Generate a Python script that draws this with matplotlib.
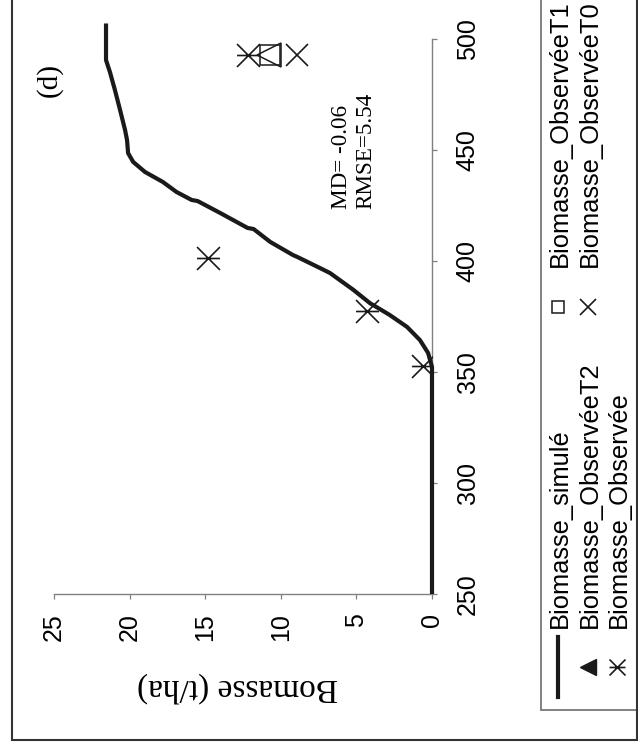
import matplotlib
matplotlib.use("Agg")
import matplotlib.pyplot as plt
from matplotlib.path import Path
from matplotlib.lines import Line2D
from matplotlib.patches import Rectangle
from matplotlib.transforms import Affine2D

# ---------------- data ----------------
days_sim = [250, 351, 352.3, 358.6, 364.4, 370.3, 375.7, 381, 387, 394.6, 396.8,
            401.8, 402.7, 408.6, 414.4, 414.9, 421.6, 427, 427.5, 431.1, 435.6,
            440.1, 444.6, 448.6, 454.5, 459, 468, 477, 485.1, 490.5, 507]
bio_sim = [0, 0, 0, 0.26, 0.8, 1.65, 2.8, 4.1, 5.2, 6.75, 7.4,
           8.9, 9.2, 10.7, 11.8, 12.2, 14.0, 15.5, 15.9, 16.9, 17.8,
           18.98, 19.76, 20.1, 20.17, 20.3, 20.63, 20.97, 21.3, 21.56, 21.56]

obs_days = [352.7, 377.7, 401.4, 492.8]
obs_bio = [0.6, 4.3, 14.8, 12.2]

t2_days = [492.8]
t2_bio = [10.75]
t1_days = [492.6]
t1_bio = [10.7]
t0_days = [492.8]
t0_bio = [8.95]

bio_ticks = [0, 5, 10, 15, 20, 25]
day_ticks = [250, 300, 350, 400, 450, 500]

legend_labels = ["Biomasse_simulé", "Biomasse_ObservéeT2", "Biomasse_Observée",
                 "Biomasse_ObservéeT1", "Biomasse_ObservéeT0"]

SANS = "Liberation Sans"
SERIF = "Liberation Serif"

# asterisk marker: X plus a horizontal bar
ast = Path([(-1, -1), (1, 1), (-1, 1), (1, -1), (-1, 0), (1, 0)],
           [Path.MOVETO, Path.LINETO, Path.MOVETO, Path.LINETO, Path.MOVETO, Path.LINETO])

W, H = 638, 745
fig = plt.figure(figsize=(W / 100, H / 100), dpi=100)
px = Affine2D().scale(1 / W, -1 / H).translate(0, 1) + fig.transFigure

ax = fig.add_axes([54 / W, (H - 594) / H, 378 / W, 555 / H])
ax.set_xlim(25, 0)
ax.set_ylim(250, 500)

ax.plot(bio_sim, days_sim, color="#1a1a1a", lw=3.0, clip_on=False, zorder=3,
        solid_capstyle="butt")
ax.plot(obs_bio, obs_days, linestyle="none", marker=ast, ms=16.5, mew=1.2,
        color="#1a1a1a", zorder=4)
ax.plot(t2_bio, t2_days, linestyle="none", marker="<", ms=17, mew=1.1,
        mfc="none", mec="#1a1a1a", zorder=4)
ax.plot(t1_bio, t1_days, linestyle="none", marker="s", ms=15, mew=1.1,
        mfc="none", mec="#1a1a1a", zorder=4)
ax.plot(t0_bio, t0_days, linestyle="none", marker="x", ms=16.5, mew=1.2,
        color="#1a1a1a", zorder=4)

for s in ["top", "left"]:
    ax.spines[s].set_visible(False)
for s in ["right", "bottom"]:
    ax.spines[s].set_color("#808080")
    ax.spines[s].set_linewidth(1.0)

ax.yaxis.tick_right()
ax.set_xticks(bio_ticks)
ax.set_yticks(day_ticks)
ax.tick_params(axis="x", direction="out", length=3.6, width=0.9, color="#808080",
               pad=10, labelsize=18)
ax.tick_params(axis="y", direction="out", length=3.6, width=0.9, color="#808080",
               pad=13.5, labelsize=18)
for lbl in ax.get_xticklabels():
    lbl.set_rotation(90)
    lbl.set_family(SANS)
for lbl in ax.get_yticklabels():
    lbl.set_rotation(90)
    lbl.set_va("center")
    lbl.set_family(SANS)

ax.set_xlabel("Bomasse (t/ha)", rotation=180, fontsize=24, family=SERIF)
ax.xaxis.label.set_va("center")
ax.xaxis.set_label_coords((238 - 54) / 378, (594 - 687) / 555)

ax.text(6.0, 423.4, "MD= -0.06", rotation=90, rotation_mode="anchor",
        ha="left", va="center", fontsize=16.7, family=SERIF)
ax.text(4.4, 423.4, "RMSE=5.54", rotation=90, rotation_mode="anchor",
        ha="left", va="center", fontsize=16.7, family=SERIF)
ax.text(25.3, 481.5, "(d)", rotation=90, ha="center", va="center",
        fontsize=21, family=SERIF, clip_on=False)

# ---------------- rotated legend (drawn manually) ----------------
fig.patches.append(Rectangle((541, -30), 200, 740, transform=px, fill=False,
                             edgecolor="#777777", lw=1.3))
rows = [558, 588, 617]
c1_y, c2_y = 667, 307
t1_y, t2_y = 628, 267

fig.lines.append(Line2D([rows[0], rows[0]], [637, 697], transform=px,
                        color="#1a1a1a", lw=3.0))
fig.lines.append(Line2D([rows[1]], [c1_y], transform=px, linestyle="none",
                        marker="<", ms=11, color="#1a1a1a"))
fig.lines.append(Line2D([rows[2]], [c1_y], transform=px, linestyle="none",
                        marker=ast, ms=11.5, mew=1.2, color="#1a1a1a"))
fig.lines.append(Line2D([rows[0]], [c2_y], transform=px, linestyle="none",
                        marker="s", ms=8.5, mew=1.1, mfc="none", mec="#1a1a1a"))
fig.lines.append(Line2D([rows[1]], [c2_y], transform=px, linestyle="none",
                        marker="x", ms=12, mew=1.2, color="#1a1a1a"))

pos = [(rows[0], t1_y), (rows[1], t1_y), (rows[2], t1_y),
       (rows[0], t2_y), (rows[1], t2_y)]
for (x, y), lab in zip(pos, legend_labels):
    fig.text(x + 9, y, lab, transform=px, rotation=90, rotation_mode="anchor",
             ha="left", va="baseline", fontsize=18.4, family=SANS)

# outer chart border
fig.patches.append(Rectangle((12, -30), 625, 770, transform=px, fill=False,
                             edgecolor="#333333", lw=1.5))

fig.savefig("out.png", dpi=100)
